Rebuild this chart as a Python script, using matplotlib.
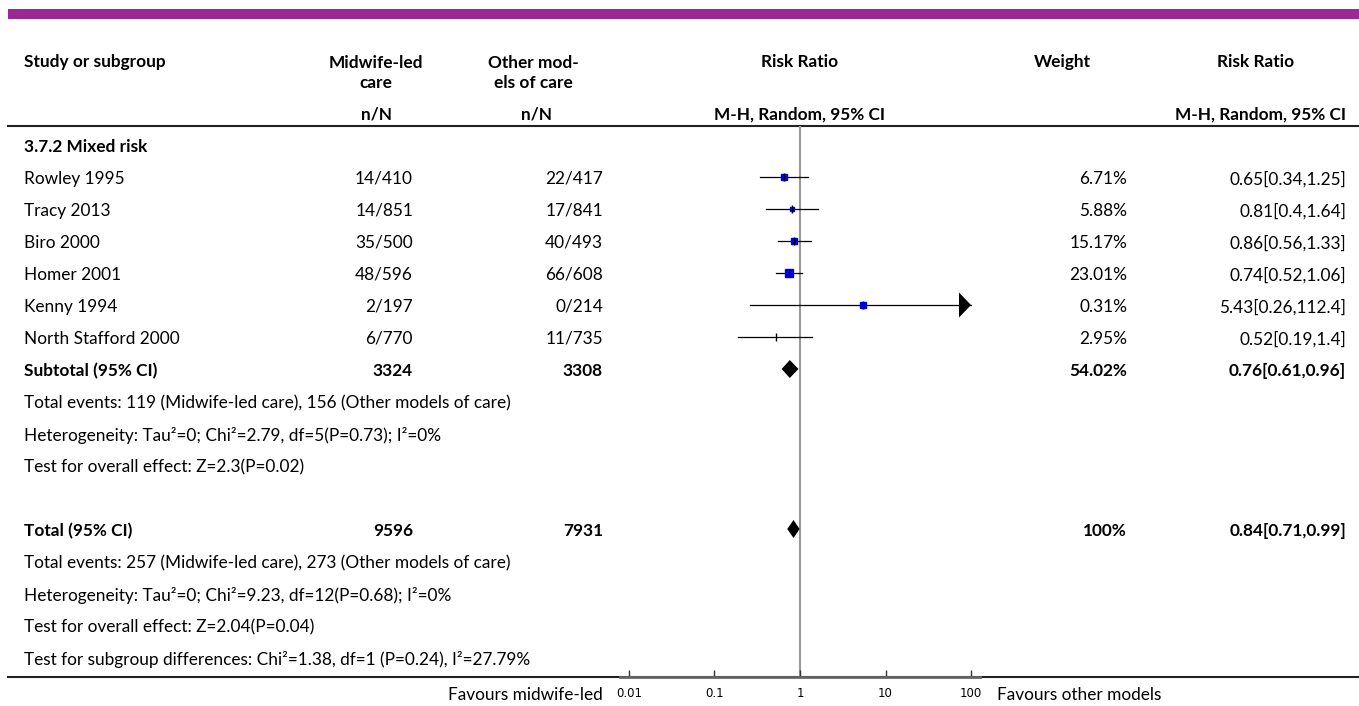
import numpy as np
import matplotlib.pyplot as plt

plt.rcParams['font.family'] = ['Lato', 'DejaVu Sans']

# Datos del forest plot
studies = ["Rowley 1995", "Tracy 2013", "Biro 2000", "Homer 2001", "Kenny 1994", "North Stafford 2000"]
mw_events = [14, 14, 35, 48, 2, 6]
mw_total = [410, 851, 500, 596, 197, 770]
ot_events = [22, 17, 40, 66, 0, 11]
ot_total = [417, 841, 493, 608, 214, 735]
weights = [6.71, 5.88, 15.17, 23.01, 0.31, 2.95]
rr = [0.65, 0.81, 0.86, 0.74, 5.43, 0.52]
rr_lo = [0.34, 0.4, 0.56, 0.52, 0.26, 0.19]
rr_hi = [1.25, 1.64, 1.33, 1.06, 112.4, 1.4]

subgroup = "3.7.2 Mixed risk"
sub_totals = [3324, 3308]
sub_weight = 54.02
sub_rr = [0.76, 0.61, 0.96]
sub_notes = ["Total events: 119 (Midwife-led care), 156 (Other models of care)",
             "Heterogeneity: Tau²=0; Chi²=2.79, df=5(P=0.73); I²=0%",
             "Test for overall effect: Z=2.3(P=0.02)"]

tot_totals = [9596, 7931]
tot_weight = 100
tot_rr = [0.84, 0.71, 0.99]
tot_notes = ["Total events: 257 (Midwife-led care), 273 (Other models of care)",
             "Heterogeneity: Tau²=0; Chi²=9.23, df=12(P=0.68); I²=0%",
             "Test for overall effect: Z=2.04(P=0.04)",
             "Test for subgroup differences: Chi²=1.38, df=1 (P=0.24), I²=27.79%"]

ticks = [0.01, 0.1, 1, 10, 100]
tick_labels = ["0.01", "0.1", "1", "10", "100"]

# tamaño de los cuadrados (estilo, en puntos)
marker_sizes = [4.0, 3.2, 4.0, 6.0, 4.5, 0.0]

W, H = 1359, 706
fig = plt.figure(figsize=(W / 100, H / 100), dpi=100)
ax = fig.add_axes([0, 0, 1, 1])
ax.set_xlim(0, W)
ax.set_ylim(H, 0)
ax.axis('off')

FS = 12.4
x_lab, x_mw, x_ot, x_w, x_rr = 24, 413, 603, 1127, 1346

# Barra superior y encabezados
ax.fill_between([8, W], 9, 19, color='#9C2894', lw=0)
ax.text(x_lab, 62, "Study or subgroup", fontsize=FS, weight='bold', va='center')
ax.text(376, 73, "Midwife-led\ncare", fontsize=FS, weight='bold', va='center', ha='center', linespacing=1.35)
ax.text(533, 73, "Other mod-\nels of care", fontsize=FS, weight='bold', va='center', ha='center', linespacing=1.35)
ax.text(800, 62, "Risk Ratio", fontsize=FS, weight='bold', va='center', ha='center')
ax.text(1062, 62, "Weight", fontsize=FS, weight='bold', va='center', ha='center')
ax.text(1256, 62, "Risk Ratio", fontsize=FS, weight='bold', va='center', ha='center')
ax.text(377, 115, "n/N", fontsize=FS, weight='bold', va='center', ha='center')
ax.text(537, 115, "n/N", fontsize=FS, weight='bold', va='center', ha='center')
ax.text(800, 115, "M-H, Random, 95% CI", fontsize=FS, weight='bold', va='center', ha='center')
ax.text(x_rr, 115, "M-H, Random, 95% CI", fontsize=FS, weight='bold', va='center', ha='right')
ax.plot([8, W], [126, 126], color='#222222', lw=1.5)
ax.plot([8, W], [677, 677], color='#222222', lw=1.5)

def row_y(i):
    return 145 + 32 * i

TY = 2  # desplazamiento del texto respecto a la marca

def fmt_rr(r, lo, hi):
    return f"{r:g}[{lo:g},{hi:g}]"

# Eje del forest plot (escala log)
fa = fig.add_axes([620 / W, (H - 677) / H, 360 / W, (677 - 126) / H])
fa.set_xscale('log')
fa.set_xlim(10 ** -2.105, 10 ** 2.105)
fa.set_ylim(677, 126)
fa.patch.set_alpha(0)
for s in ['top', 'left', 'right']:
    fa.spines[s].set_visible(False)
fa.spines['bottom'].set_color('#666666')
fa.spines['bottom'].set_linewidth(2)
fa.set_yticks([])
fa.set_xticks(ticks)
fa.set_xticklabels(tick_labels, family='DejaVu Sans')
fa.minorticks_off()
fa.tick_params(axis='x', direction='in', length=5, width=1, color='#333333', labelsize=8.5, pad=7)
fa.axvline(1, color='#999999', lw=1.5, zorder=0)

ax.text(x_lab, row_y(0) + TY, subgroup, fontsize=FS, weight='bold', va='center')
for i, name in enumerate(studies):
    y = row_y(i + 1)
    ty = y + TY
    ax.text(x_lab, ty, name, fontsize=FS, va='center')
    ax.text(x_mw, ty, f"{mw_events[i]}/{mw_total[i]}", fontsize=FS, va='center', ha='right')
    ax.text(x_ot, ty, f"{ot_events[i]}/{ot_total[i]}", fontsize=FS, va='center', ha='right')
    ax.text(x_w, ty, f"{weights[i]:g}%", fontsize=FS, va='center', ha='right')
    ax.text(x_rr, ty, fmt_rr(rr[i], rr_lo[i], rr_hi[i]), fontsize=FS, va='center', ha='right')
    hi = min(rr_hi[i], 100)
    fa.plot([rr_lo[i], hi], [y, y], color='black', lw=0.9)
    if rr_hi[i] > 100:
        # flecha: la IC sale del eje
        base = 100 / 10 ** (12 / 85.5)
        fa.fill([base, 100, base], [y - 12.5, y, y + 12.5], color='black', lw=0, clip_on=False)
    if marker_sizes[i] > 0:
        fa.plot(rr[i], y, marker='s', markersize=marker_sizes[i], color='#0000EE', mec='#0000EE')
    fa.plot(rr[i], y, marker='|', markersize=6, color='black', mew=1)

def diamond(vals, y, half=9):
    r, lo, hi = vals
    fa.fill([lo, r, hi, r], [y, y - half, y, y + half], color='black', lw=0)

def total_row(y, label, totals, weight, vals):
    ax.text(x_lab, y + TY, label, fontsize=FS, weight='bold', va='center')
    ax.text(x_mw, y + TY, str(totals[0]), fontsize=FS, weight='bold', va='center', ha='right')
    ax.text(x_ot, y + TY, str(totals[1]), fontsize=FS, weight='bold', va='center', ha='right')
    ax.text(x_w, y + TY, f"{weight:g}%", fontsize=FS, weight='bold', va='center', ha='right')
    ax.text(x_rr, y + TY, fmt_rr(*vals), fontsize=FS, weight='bold', va='center', ha='right')
    diamond(vals, y)

# Subtotal
total_row(row_y(7), "Subtotal (95% CI)", sub_totals, sub_weight, sub_rr)
for k, note in enumerate(sub_notes):
    ax.text(x_lab, row_y(8 + k) + TY, note, fontsize=FS, va='center')

# Total
total_row(row_y(12), "Total (95% CI)", tot_totals, tot_weight, tot_rr)
for k, note in enumerate(tot_notes):
    ax.text(x_lab, row_y(13 + k) + TY, note, fontsize=FS, va='center')

ax.text(603, 695, "Favours midwife-led", fontsize=FS, va='center', ha='right')
ax.text(997, 695, "Favours other models", fontsize=FS, va='center', ha='left')

plt.savefig("out.png", dpi=100)
